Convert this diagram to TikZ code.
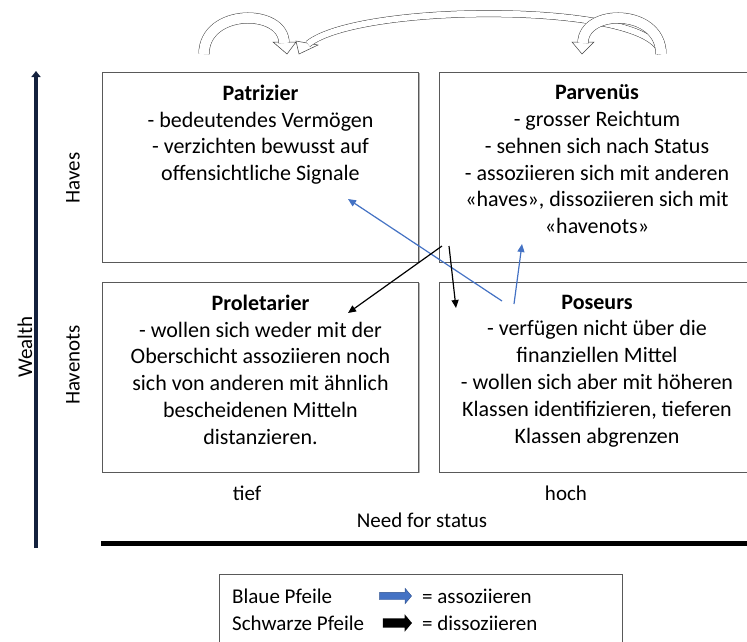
\documentclass[tikz,border=0pt]{standalone}
\usepackage{fontspec}
\setmainfont{Carlito}
\usetikzlibrary{shapes,arrows.meta,positioning,calc,shadows}
\definecolor{assocblue}{HTML}{4472C4}
\definecolor{assocedge}{HTML}{2F528F}
\definecolor{boxgray}{HTML}{595959}
\definecolor{axisnavy}{HTML}{14213D}
\newcommand{\bodyfont}{\fontsize{21}{26.5}\selectfont}
\newcommand{\boxfont}{\fontsize{22}{26.8}\selectfont}

\begin{document}
\begin{tikzpicture}[x=1pt, y=-1pt,
    quadrant/.style={draw=boxgray, line width=0.8pt, fill=white, minimum width=316pt, minimum height=190pt,
                     inner sep=0pt, drop shadow={shadow xshift=1.2pt, shadow yshift=-1.2pt, fill=gray!60, opacity=1}},
    boxtext/.style={anchor=north, align=center, font=\boxfont, inner sep=0pt},
    axistext/.style={font=\bodyfont, inner sep=0pt},
    assoc/.style={-{Triangle[length=8pt,width=7pt]}, assocblue, line width=1.2pt},
    dissoc/.style={-{Triangle[length=8pt,width=7pt]}, black, line width=1.2pt},
    hollow/.style={draw=black!75, line width=0.5pt, double=white, double distance=10pt},
    hollowhead/.style={draw=black!75, line width=0.5pt, fill=white},
    legendarrow/.style={single arrow, minimum height=32pt, minimum width=0pt, inner xsep=0pt,
                        inner ysep=3.5pt, single arrow head extend=4pt, single arrow tip angle=100}
]
\useasboundingbox (0,0) rectangle (747,641);

% --- quadrants ---
\node[quadrant] (patr) at (260.5,167) {};
\node[quadrant] (parv) at (597,167) {};
\node[quadrant] (prol) at (260.5,377) {};
\node[quadrant] (pose) at (597,377) {};

\node[boxtext] (patrtext) at ([yshift=-13pt]patr.north) {\textbf{Patrizier}\\- bedeutendes Vermögen\\- verzichten bewusst auf\\offensichtliche Signale};
\node[boxtext] (parvtext) at ([yshift=-13pt]parv.north) {\textbf{Parvenüs}\\- grosser Reichtum\\- sehnen sich nach Status\\- assoziieren sich mit anderen\\«haves», dissoziieren sich mit\\«havenots»};
\node[boxtext] (proltext) at ([yshift=-13pt]prol.north) {\textbf{Proletarier}\\- wollen sich weder mit der\\Oberschicht assoziieren noch\\sich von anderen mit ähnlich\\bescheidenen Mitteln\\distanzieren.};
\node[boxtext] (posetext) at ([yshift=-13pt]pose.north) {\textbf{Poseurs}\\- verfügen nicht über die\\finanziellen Mittel\\- wollen sich aber mit höheren\\Klassen identifizieren, tieferen\\Klassen abgrenzen};

% --- axes ---
\node[axistext, rotate=90] (wealth) at (25,347) {Wealth};
\node[axistext, rotate=90] (haves) at (73,178) {Haves};
\node[axistext, rotate=90] (havenots) at (73,365) {Havenots};
\node[axistext] (tief) at (247,493) {tief};
\node[axistext] (hoch) at (566,493) {hoch};
\node[axistext] (need) at (422,520) {Need for status};

\coordinate (wbot) at (36,548);
\coordinate (wtop) at (36,71);
\coordinate (nleft) at (101,543.5);
\coordinate (nright) at (752,543.5);

\draw[line width=4pt, axisnavy, -{Triangle[length=6pt,width=9pt]}] (wbot) -- (wtop);
\draw[line width=5pt] (nleft) -- (nright);

% --- moves between the classes ---
\coordinate (b1s) at (502,301); \coordinate (b1e) at (348,199);
\coordinate (b2s) at (514,304); \coordinate (b2e) at (522,244);
\coordinate (k1s) at (442,246); \coordinate (k1e) at (348,313);
\coordinate (k2s) at (449,246); \coordinate (k2e) at (456,308);

\draw[assoc] (b1s) -- (b1e);
\draw[assoc] (b2s) -- (b2e);
\draw[dissoc] (k1s) -- (k1e);
\draw[dissoc] (k2s) -- (k2e);

% --- hollow arrows on top ---
\coordinate (ltail) at (204,54);
\coordinate (lend) at (284,43);
\coordinate (rtail) at (661,54);
\coordinate (rend) at (583,43);
\coordinate (longend) at (308,44);

\draw[hollowhead] (273,42) -- (296,42) -- (287,54) -- cycle;
\draw[hollow] (ltail) .. controls (204,8) and (284,8) .. (lend);

\draw[hollowhead] (296,41) -- (318,45) -- (299,54) -- cycle;
\draw[hollow, double distance=6pt] (rtail) .. controls (655,2) and (360,2) .. (longend);

\draw[hollowhead] (572,42) -- (594,42) -- (582,54) -- cycle;
\draw[hollow] (rtail) .. controls (661,8) and (583,8) .. (rend);

% --- legend ---
\node[draw=boxgray, line width=0.8pt, minimum width=403pt, minimum height=90pt,
      anchor=north west, inner sep=0pt] (legend) at (219,574) {};
\node[axistext, anchor=west] (bluelbl) at (232,596) {Blaue Pfeile};
\node[axistext, anchor=west] (blacklbl) at (232,623) {Schwarze Pfeile};
\node[legendarrow, fill=assocblue, draw=assocedge, line width=0.4pt] (bluearr) at (394,596) {};
\node[legendarrow, fill=black, minimum height=29pt, inner ysep=4.5pt] (blackarr) at (395.5,623) {};
\node[axistext, anchor=west] (assoclbl) at (422,596) {= assoziieren};
\node[axistext, anchor=west] (dissoclbl) at (422,623) {= dissoziieren};

\end{tikzpicture}
\end{document}
